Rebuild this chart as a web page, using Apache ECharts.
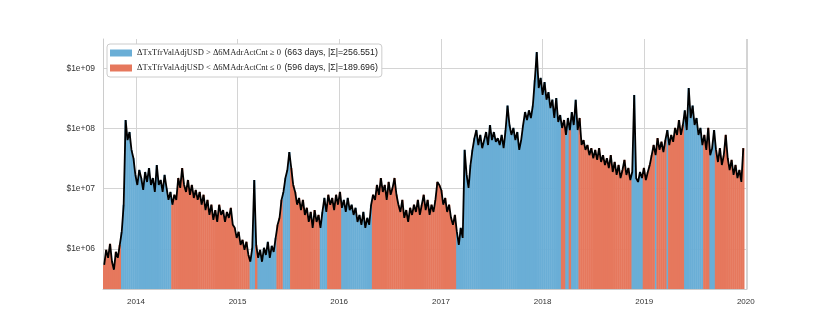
<!DOCTYPE html>
<html>
<head>
<meta charset="utf-8">
<script src="https://cdn.jsdelivr.net/npm/echarts@6/dist/echarts.min.js"></script>
<style>
html, body { margin: 0; padding: 0; background: #fff; }
#chart { width: 830px; height: 332px; }
</style>
</head>
<body>
<div id="chart"></div>
<script>
// weekly samples starting at this date
var startDate = '2013-09-09';

// TxTfrValAdjUSD, millions of USD, one value per week
var valuesM = [
    0.54, 0.96, 0.71, 1.21, 0.61, 0.45, 0.89, 0.71, 1.16, 1.91,
    5.4, 138, 64, 87, 44, 32, 16.9, 11.5, 20.4, 15.0,
    9.5, 18.9, 12.9, 22, 11.5, 15.0, 8.8, 24.7, 11.5, 13.9,
    8.8, 16.9, 10.3, 6.5, 8.8, 5.4, 7.9, 6.5, 15.0, 10.3,
    22, 11.5, 8.8, 13.9, 7.9, 11.5, 7.0, 9.5, 6.5, 8.8,
    5.4, 7.9, 4.4, 6.5, 3.66, 5.4, 3.03, 4.4, 2.8, 5.4,
    3.66, 4.4, 2.8, 4.1, 3.27, 4.8, 2.5, 2.23, 1.52, 1.91,
    1.16, 1.41, 0.96, 1.31, 0.79, 0.61, 1.04, 13.9, 1.16, 0.71,
    0.96, 0.61, 1.04, 0.79, 1.31, 0.71, 1.12, 0.89, 1.52, 2.5,
    3.27, 6.5, 8.8, 15.0, 20.4, 40.6, 22, 11.5, 8.8, 5.4,
    7.0, 4.4, 6.5, 3.66, 4.8, 2.8, 4.1, 2.23, 4.4, 2.8,
    3.66, 2.23, 4.1, 7.0, 4.1, 7.9, 5.4, 7.0, 4.4, 7.9,
    5.4, 8.8, 4.8, 6.5, 4.1, 7.0, 4.4, 5.4, 3.66, 4.8,
    2.8, 3.66, 2.5, 4.1, 2.23, 3.27, 2.5, 5.4, 7.9, 6.5,
    11.5, 7.9, 15.0, 8.8, 11.5, 6.5, 12.9, 7.9, 10.3, 15.0,
    7.9, 5.4, 4.1, 6.5, 3.27, 4.4, 2.8, 4.8, 3.66, 5.4,
    4.1, 6.5, 3.66, 5.4, 7.9, 4.4, 6.5, 3.66, 5.4, 4.1,
    6.5, 12.9, 11.5, 9.5, 5.4, 7.0, 4.1, 5.4, 3.27, 2.5,
    3.66, 1.91, 1.16, 2.23, 1.52, 44, 16.9, 10.3, 24.7, 44,
    69, 94, 53, 78, 47, 64, 87, 53, 114, 64,
    87, 60, 69, 53, 78, 47, 94, 240, 114, 78,
    102, 64, 87, 44, 64, 114, 187, 138, 200, 149,
    240, 635, 1850, 470, 690, 360, 590, 300, 400, 218,
    300, 149, 320, 128, 167, 102, 138, 78, 149, 94,
    187, 114, 300, 94, 149, 53, 64, 44, 53, 36,
    47, 32, 44, 30, 47, 27.7, 36, 24.7, 32, 22,
    36, 18.9, 27.7, 16.9, 24.7, 15.0, 20.4, 30, 16.9, 22,
    13.9, 18.9, 360, 15.0, 12.9, 18.9, 15.0, 22, 13.9, 18.9,
    24.7, 36, 53, 36, 69, 44, 60, 40.6, 64, 94,
    53, 78, 60, 102, 78, 138, 78, 114, 200, 94,
    470, 149, 240, 114, 149, 78, 102, 53, 78, 44,
    102, 36, 47, 94, 44, 27.7, 47, 24.7, 36, 78,
    32, 20.4, 30, 16.9, 24.7, 15.0, 20.4, 12.9, 47
];

// sign of (dTxTfrValAdjUSD - d6MAdrActCnt): [number of weeks, +1 / -1]
var signRuns = [
    [9, -1], [26, 1], [40, -1], [3, 1], [1, -1], [10, 1], [3, -1], [4, 1],
    [15, -1], [4, 1], [7, -1], [16, 1], [43, -1], [54, 1], [2, -1], [2, 1],
    [1, -1], [4, 1], [27, -1], [6, 1], [6, -1], [1, 1], [5, -1], [1, 1],
    [8, -1], [10, 1], [3, -1], [3, 1], [15, -1]
];

var legendLabels = {
    pos: ['ΔTxTfrValAdjUSD > Δ6MAdrActCnt ≥ 0', '(663 days, |Σ|=256.551)'],
    neg: ['ΔTxTfrValAdjUSD < Δ6MAdrActCnt ≤ 0', '(596 days, |Σ|=189.696)']
};

var posColor = '#6aaed6';
var negColor = '#e6785d';

var signs = [];
signRuns.forEach(function(r) {
    for (var k = 0; k < r[0]; k++) signs.push(r[1]);
});

var t0 = new Date(startDate + 'T00:00:00Z').getTime();
var week = 7 * 86400000;
var lineData = [], posData = [], negData = [];
for (var i = 0; i < valuesM.length; i++) {
    var t = t0 + i * week;
    var v = valuesM[i] * 1e6;
    lineData.push([t, v]);
    posData.push(signs[i] > 0 ? [t, v] : [t, '-']);
    negData.push(signs[i] < 0 ? [t, v] : [t, '-']);
}

var chart = echarts.init(document.getElementById('chart'));
chart.setOption({
    animation: false,
    backgroundColor: '#fff',
    grid: { left: 103, right: 83, top: 39, bottom: 43 },
    legend: {
        data: ['pos', 'neg'],
        orient: 'vertical',
        left: 107,
        top: 44,
        icon: 'rect',
        itemWidth: 22,
        itemHeight: 7,
        itemGap: 3,
        padding: [3, 4, 3, 3],
        backgroundColor: '#fff',
        borderColor: '#ccc',
        borderWidth: 1,
        borderRadius: 3,
        formatter: function(name) {
            var l = legendLabels[name];
            return '{m|' + l[0] + '} {s|' + l[1] + '}';
        },
        textStyle: {
            rich: {
                m: { fontFamily: 'Liberation Serif', fontSize: 8.5, color: '#222' },
                s: { fontFamily: 'Liberation Sans', fontSize: 8.8, color: '#222' }
            }
        }
    },
    xAxis: {
        type: 'time',
        min: Date.UTC(2013, 8, 9),
        max: Date.UTC(2020, 0, 1),
        splitNumber: 7,
        axisLine: { show: true, lineStyle: { color: '#ccc' } },
        axisTick: { show: false },
        splitLine: { show: true, lineStyle: { color: '#d4d4d4' } },
        axisLabel: {
            formatter: '{yyyy}',
            showMinLabel: false,
            color: '#333',
            fontSize: 8,
            fontFamily: 'Liberation Sans',
            margin: 9
        }
    },
    yAxis: {
        type: 'log',
        logBase: 10,
        min: 2.15e5,
        max: 3.06e9,
        axisLine: { show: true, lineStyle: { color: '#ccc' } },
        axisTick: { show: false },
        splitLine: { show: true, showMinLine: false, showMaxLine: false, lineStyle: { color: '#d4d4d4' } },
        axisLabel: {
            color: '#333',
            fontSize: 8.5,
            fontFamily: 'Liberation Sans',
            margin: 8,
            formatter: function(val) {
                var e = Math.log10(val);
                var r = Math.round(e);
                if (Math.abs(e - r) > 1e-6) return '';
                return '$1e+' + (r < 10 ? '0' : '') + r;
            }
        }
    },
    series: [{
        name: 'pos',
        type: 'bar',
        data: posData,
        barWidth: 2.4,
        barGap: '-100%',
        itemStyle: { color: posColor },
        emphasis: { disabled: true }
    }, {
        name: 'neg',
        type: 'bar',
        data: negData,
        barWidth: 2.4,
        barGap: '-100%',
        itemStyle: { color: negColor },
        emphasis: { disabled: true }
    }, {
        name: 'value',
        type: 'line',
        data: lineData,
        symbol: 'none',
        z: 5,
        lineStyle: { color: '#000', width: 1.8 },
        emphasis: { disabled: true }
    }]
});
</script>
</body>
</html>
